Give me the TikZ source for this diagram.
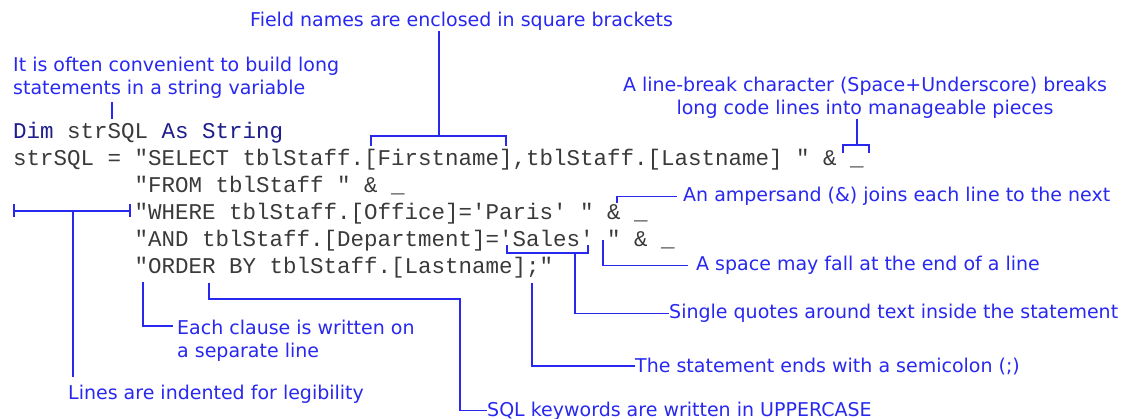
\documentclass[tikz,border=0pt]{standalone}
\usepackage{fontspec}
\setmonofont{Liberation Mono}
\newfontfamily\notefont{DejaVu Sans}
\definecolor{noteblue}{RGB}{40,40,240}
\definecolor{codegray}{RGB}{58,58,58}
\definecolor{codenavy}{RGB}{30,30,140}
\tikzset{
	code/.style={anchor=base west, inner sep=0pt, text=codegray, font=\ttfamily\fontsize{22.5}{27}\selectfont},
	note/.style={anchor=base west, inner sep=0pt, text=noteblue, font=\notefont\fontsize{19}{23}\selectfont},
	lead/.style={draw=noteblue, line width=1.4pt},
}
\begin{document}
\begin{tikzpicture}[x=1pt,y=-1pt]
	\path[use as bounding box, fill=white] (0,0) rectangle (1126,419);
	% the code itself
	\node[code] (dim) at (13,139) {\textcolor{codenavy}{Dim} strSQL \textcolor{codenavy}{As String}};
	\node[code] (sel) at (13,166) {strSQL = "SELECT tblStaff.[Firstname],tblStaff.[Lastname] " \& \_};
	\node[code] (from) at (134.5,193) {"FROM tblStaff " \& \_};
	\node[code] (where) at (134.5,220) {"WHERE tblStaff.[Office]='Paris' " \& \_};
	\node[code] (and) at (134.5,247) {"AND tblStaff.[Department]='Sales' " \& \_};
	\node[code] (order) at (134.5,274) {"ORDER BY tblStaff.[Lastname];"};
	% field names
	\node[note] (fieldLbl) at (250,27) {Field names are enclosed in square brackets};
	\coordinate (fieldL) at (371,146);
	\coordinate (fieldR) at (506,146);
	\coordinate (fieldTop) at (439,136);
	\draw[lead] (fieldL) |- (fieldTop) -| (fieldR);
	\draw[lead] (fieldLbl.south -| fieldTop) -- (fieldTop);
	% string variable
	\node[note, anchor=north west, align=left] (strLbl) at (13,57) {It is often convenient to build long\\statements in a string variable};
	\coordinate (strTick) at (112,119);
	\draw[lead] ([yshift=-3pt]strLbl.south -| strTick) -- (strTick);
	% line continuation
	\node[note, anchor=north, align=center] (brkLbl) at (865,77) {A line-break character (Space+Underscore) breaks\\long code lines into manageable pieces};
	\coordinate (brkL) at (843,153);
	\coordinate (brkR) at (869,153);
	\coordinate (brkTop) at (857,145);
	\draw[lead] (brkL) |- (brkTop) -| (brkR);
	\draw[lead] (brkLbl.south -| brkTop) -- (brkTop);
	% ampersand
	\node[note] (ampLbl) at (683,201.5) {An ampersand (\&) joins each line to the next};
	\coordinate (ampTip) at (617,203);
	\draw[lead] (ampTip) |- ([xshift=-6pt]ampLbl.west);
	% trailing space
	\node[note] (spaceLbl) at (696,270.5) {A space may fall at the end of a line};
	\coordinate (spaceTip) at (603,240);
	\draw[lead] (spaceTip) |- ([xshift=-8pt]spaceLbl.west);
	% single quotes
	\node[note] (quoteLbl) at (669,318.5) {Single quotes around text inside the statement};
	\coordinate (quoteL) at (507,245);
	\coordinate (quoteR) at (588,245);
	\coordinate (quoteMid) at (575,253);
	\draw[lead] (quoteL) |- (quoteMid) -| (quoteR);
	\draw[lead] (quoteMid) |- (quoteLbl.west);
	% semicolon
	\node[note] (semiLbl) at (635,372) {The statement ends with a semicolon (;)};
	\coordinate (semiTip) at (532,283);
	\draw[lead] (semiTip) |- (semiLbl.west);
	% one clause per line
	\node[note, anchor=north west, align=left] (clauseLbl) at (177,320) {Each clause is written on\\a separate line};
	\coordinate (clauseTip) at (143,282);
	\draw[lead] (clauseTip) |- ([xshift=-4pt,yshift=-6pt]clauseLbl.north west);
	% keywords
	\node[note] (kwLbl) at (487,416) {SQL keywords are written in UPPERCASE};
	\coordinate (kwTip) at (209,283);
	\coordinate (kwBend) at (460,299);
	\draw[lead] (kwTip) |- (kwBend) |- (kwLbl.west);
	% indentation
	\node[note] (indLbl) at (68,399.5) {Lines are indented for legibility};
	\coordinate (indL) at (14,211);
	\coordinate (indR) at (130,211);
	\coordinate (indMid) at (73,211);
	\draw[lead] (indL) -- (indR);
	\draw[lead] ([yshift=6.5pt]indL) -- ([yshift=-6.5pt]indL);
	\draw[lead] ([yshift=6.5pt]indR) -- ([yshift=-6.5pt]indR);
	\draw[lead] (indMid) -- ([yshift=8pt]indLbl.north -| indMid);
\end{tikzpicture}
\end{document}
